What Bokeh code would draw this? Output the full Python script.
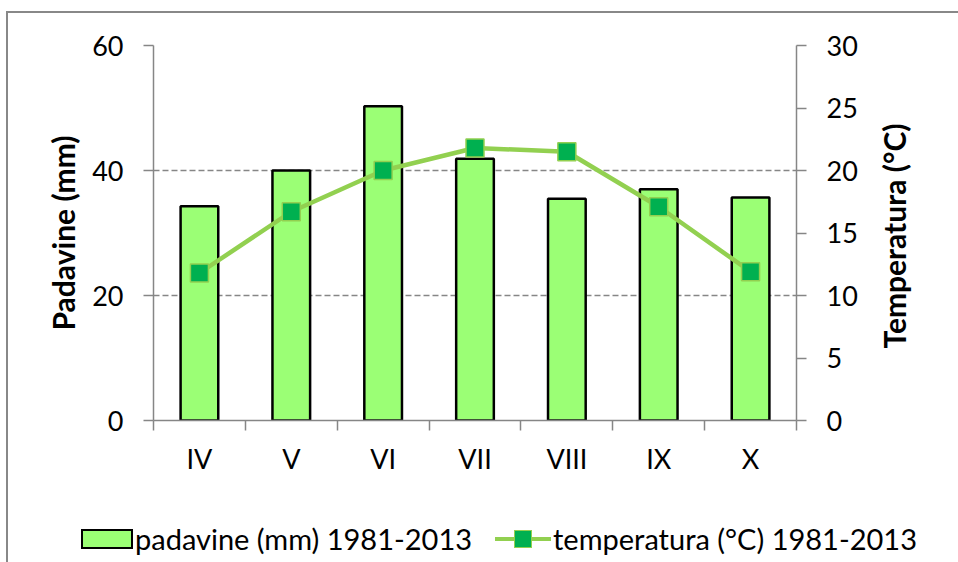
import numpy as np
from bokeh.plotting import figure
from bokeh.layouts import column, row
from bokeh.models import Range1d, LinearAxis, FixedTicker, Div
from bokeh.embed import file_html
from bokeh.resources import INLINE

months = ["IV", "V", "VI", "VII", "VIII", "IX", "X"]
precip = [34.3, 40.0, 50.3, 41.9, 35.5, 37.0, 35.7]
temp = [11.8, 16.7, 20.0, 21.8, 21.5, 17.1, 11.9]
left_ticks = [0, 20, 40, 60]
right_ticks = [0, 5, 10, 15, 20, 25, 30]
precip_name = "padavine (mm) 1981-2013"
temp_name = "temperatura (°C) 1981-2013"
left_title = "Padavine (mm)"
right_title = "Temperatura (°C)"

FONT = "Lato"
GREY = "#868686"
BAR_FILL = "#9BFF75"
LINE_C = "#92D050"
MARK_C = "#00B050"
TICK_FS = "27px"
TITLE_FS = "30px"
LEG_FS = "29px"

xc = np.arange(len(months)) + 0.5
edges = np.arange(len(months) + 1)

p = figure(width=860, height=477, output_backend="svg", toolbar_location=None,
           x_range=Range1d(0, len(months)), y_range=Range1d(0, 60),
           min_border_left=145, min_border_right=72, min_border_top=32, min_border_bottom=70)
p.outline_line_color = None
p.background_fill_color = "white"
p.border_fill_color = "white"
p.extra_y_ranges = {"temp": Range1d(0, 30)}

bars = p.vbar(x=xc, top=precip, width=0.41, fill_color=BAR_FILL,
              line_color="black", line_width=2.5)
ln = p.line(x=xc, y=temp, y_range_name="temp", line_color=LINE_C, line_width=4.5)
mk = p.scatter(x=xc, y=temp, y_range_name="temp", marker="square", size=18,
               fill_color=MARK_C, line_color=LINE_C, line_width=1.5)

# bottom axis
xa = p.xaxis[0]
xa.ticker = FixedTicker(ticks=list(xc), minor_ticks=list(edges))
xa.major_label_overrides = {float(c): m for c, m in zip(xc, months)}
xa.major_tick_out = 0
xa.major_tick_in = 0
xa.minor_tick_out = 10
xa.minor_tick_in = 0
xa.minor_tick_line_color = GREY
xa.minor_tick_line_width = 1.5
xa.axis_line_color = GREY
xa.axis_line_width = 1.5
xa.major_label_text_font = FONT
xa.major_label_text_font_size = TICK_FS
xa.major_label_text_color = "black"
xa.major_label_standoff = 11

# left axis
ya = p.yaxis[0]
ya.ticker = FixedTicker(ticks=left_ticks)
ya.minor_tick_line_color = None
ya.major_tick_out = 10
ya.major_tick_in = 0
ya.major_tick_line_color = GREY
ya.major_tick_line_width = 1.5
ya.axis_line_color = GREY
ya.axis_line_width = 1.5
ya.major_label_text_font = FONT
ya.major_label_text_font_size = TICK_FS
ya.major_label_text_color = "black"
ya.major_label_standoff = 20
ya.axis_label = left_title
ya.axis_label_text_font = FONT
ya.axis_label_text_font_size = TITLE_FS
ya.axis_label_text_font_style = "bold"
ya.axis_label_text_color = "black"
ya.axis_label_standoff = 8

# right axis (line, ticks, tick labels)
ra = LinearAxis(y_range_name="temp", ticker=FixedTicker(ticks=right_ticks))
ra.minor_tick_line_color = None
ra.major_tick_out = 10
ra.major_tick_in = 0
ra.major_tick_line_color = GREY
ra.major_tick_line_width = 1.5
ra.axis_line_color = GREY
ra.axis_line_width = 1.5
ra.major_label_text_font = FONT
ra.major_label_text_font_size = TICK_FS
ra.major_label_text_color = "black"
ra.major_label_standoff = 20
p.add_layout(ra, "right")

p.xgrid.grid_line_color = None
p.ygrid.grid_line_color = GREY
p.ygrid.grid_line_width = 1.5
p.ygrid.grid_line_dash = "6 3"

# right axis title, reading bottom-to-top, centred along the plot frame
title_html = f"""
<div style="position:relative;width:88px;height:477px;">
  <div style="position:absolute;left:21px;top:218px;transform:translate(-50%,-50%) rotate(-90deg);
              white-space:nowrap;font-family:{FONT};font-size:{TITLE_FS};font-weight:bold;
              line-height:1;color:black;">{right_title}</div>
</div>
"""
rtitle = Div(text=title_html, width=88, height=477)

# legend strip (HTML) below the chart
legend_html = f"""
<div style="position:relative;width:948px;height:60px;font-family:{FONT};font-size:{LEG_FS};color:black;">
  <div style="position:absolute;left:68px;top:24px;width:52px;height:20px;box-sizing:border-box;
              background:{BAR_FILL};border:2px solid black;"></div>
  <div style="position:absolute;left:122px;top:14px;line-height:40px;white-space:nowrap;">{precip_name}</div>
  <div style="position:absolute;left:482px;top:32px;width:56px;height:4px;background:{LINE_C};"></div>
  <div style="position:absolute;left:501px;top:25px;width:18px;height:18px;box-sizing:border-box;
              background:{MARK_C};border:1.5px solid {LINE_C};"></div>
  <div style="position:absolute;left:540px;top:14px;line-height:40px;white-space:nowrap;">{temp_name}</div>
</div>
"""
leg = Div(text=legend_html, width=948, height=60)

layout = column(row(p, rtitle, spacing=0), leg, spacing=0,
                styles={"border-left": "2px solid #888888", "border-top": "2px solid #888888",
                        "margin-left": "6px", "margin-top": "11px"})

open("out.html", "w").write(file_html(layout, INLINE))
